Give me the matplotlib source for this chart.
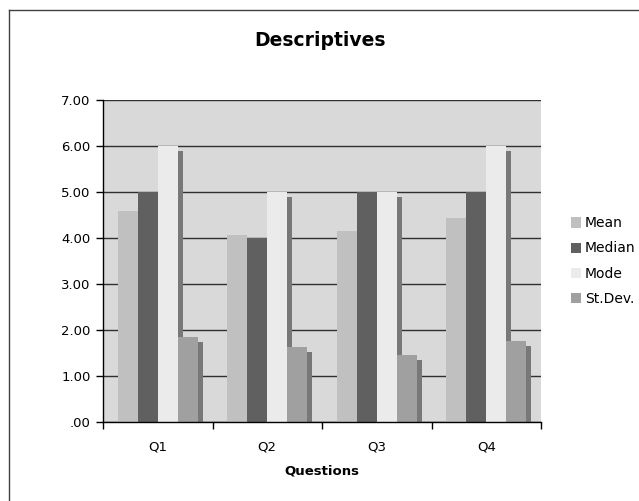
import matplotlib.pyplot as plt
import matplotlib.transforms as mtransforms
from matplotlib.patches import Patch
from matplotlib.lines import Line2D
import numpy as np

# Données
questions = ['Q1', 'Q2', 'Q3', 'Q4']
series_names = ['Mean', 'Median', 'Mode', 'St.Dev.']
mean = [4.59, 4.07, 4.15, 4.43]
median = [5.00, 4.00, 5.00, 5.00]
mode = [6.00, 5.00, 5.00, 6.00]
stdev = [1.85, 1.63, 1.46, 1.76]
y_ticks = [0, 1, 2, 3, 4, 5, 6, 7]
y_tick_labels = ['.00', '1.00', '2.00', '3.00', '4.00', '5.00', '6.00', '7.00']

colors = ['#c0c0c0', '#606060', '#ebebeb', '#a0a0a0']
shadow_color = '#787878'

fig = plt.figure(figsize=(6.39, 5.01), dpi=100)
ax = fig.add_axes([103 / 639, 1 - 422 / 501, 438 / 639, 322 / 501])
ax.set_facecolor('#d9d9d9')

x = np.arange(len(questions))
w = 1 / 5.5
# Ombre décalée de 5 px vers la droite et vers le bas
shadow_tr = ax.transData + mtransforms.ScaledTranslation(5 / 100, -5 / 100, fig.dpi_scale_trans)

z = 3
for i, values in enumerate([mean, median, mode, stdev]):
    pos = x + (i - 1.5) * w
    ax.bar(pos, values, width=w, color=shadow_color, align='center', transform=shadow_tr,
           zorder=z, linewidth=0)
    ax.bar(pos, values, width=w, color=colors[i], align='center', zorder=z + 1, linewidth=0)
    z += 2

ax.set_xlim(-0.5, 3.5)
ax.set_ylim(0, 7)
ax.set_yticks(y_ticks)
ax.set_yticklabels(y_tick_labels, fontsize=9.5)
ax.yaxis.grid(True, color='#303030', linewidth=1)
ax.set_axisbelow(True)
ax.tick_params(axis='y', length=5, width=1, color='black', pad=4)

ax.set_xticks(x)
ax.set_xticklabels(questions, fontsize=9.5)
ax.set_xticks(np.arange(-0.5, 4, 1), minor=True)
ax.tick_params(axis='x', which='major', length=0, pad=13)
ax.tick_params(axis='x', which='minor', length=5, width=1, color='black')

for side in ['top', 'right']:
    ax.spines[side].set_visible(False)
for side in ['left', 'bottom']:
    ax.spines[side].set_color('black')
    ax.spines[side].set_linewidth(1)
    ax.spines[side].set_zorder(20)

ax.set_xlabel('Questions', fontsize=9.5, fontweight='bold', labelpad=8)
fig.text(320 / 639, 1 - 40 / 501, 'Descriptives', ha='center', va='center',
         fontsize=13.5, fontweight='bold')

# Légende
handles = [Patch(facecolor=c, edgecolor='none') for c in colors]
fig.legend(handles, series_names, loc='center left', bbox_to_anchor=(558 / 639, 1 - 261 / 501),
           frameon=False, fontsize=10, labelspacing=0.8, handlelength=0.75, handleheight=0.75,
           handletextpad=0.3)

# Cadre du graphique (haut et gauche)
fig.add_artist(Line2D([9 / 639, 9 / 639], [0, 1 - 10 / 501], color='#404040', linewidth=1))
fig.add_artist(Line2D([9 / 639, 1], [1 - 10 / 501, 1 - 10 / 501], color='#404040', linewidth=1))

fig.savefig('out.png', dpi=100)
